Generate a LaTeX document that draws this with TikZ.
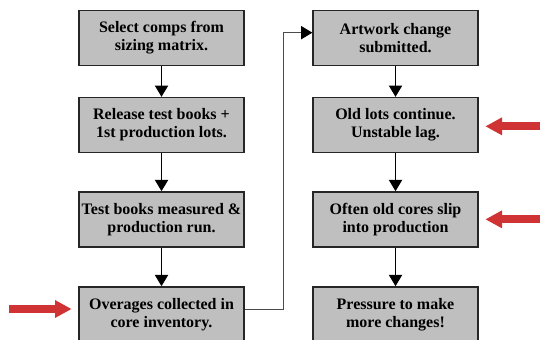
\documentclass[tikz,border=0pt]{standalone}
\usepackage{fontspec}
\setmainfont{Liberation Serif}
\usepackage{tikz}
\usetikzlibrary{calc}
\usetikzlibrary{arrows.meta,positioning}
\definecolor{boxgray}{rgb}{0.75,0.75,0.75}
\definecolor{hintred}{rgb}{0.81,0.2,0.2}
\begin{document}
\begin{tikzpicture}[x=0.75pt,y=-0.75pt,
  stepbox/.style={draw=black!85,line width=1pt,fill=boxgray,minimum width=123.75pt,
    minimum height=41.25pt,inner xsep=0pt,align=center,
    font=\fontsize{12}{13.5}\selectfont\bfseries},
  flow/.style={-{Triangle[length=8.5pt,width=10pt,black]},line width=0.8pt},
  hint/.style={-{Triangle[length=12.5pt,width=12.5pt]},line width=6pt,hintred}]
  \useasboundingbox (0,0) rectangle (541,339);
  \node[stepbox] (L1) at (161.5,38) {Select comps from\\sizing matrix.};
  \node[stepbox,below=23pt of L1] (L2) {Release test books +\\1st production lots.};
  \node[stepbox,below=28.5pt of L2] (L3) {Test books measured \&\\production run.};
  \node[stepbox,below=29pt of L3] (L4) {Overages collected in\\core inventory.};
  \node[stepbox] (R1) at (395.5,38) {Artwork change\\submitted.};
  \node[stepbox,below=23pt of R1] (R2) {Old lots continue.\\Unstable lag.};
  \node[stepbox,below=28.5pt of R2] (R3) {Often old cores slip\\into production};
  \node[stepbox,below=29pt of R3] (R4) {Pressure to make\\more changes!};
  \draw[flow] (L1) -- (L2);
  \draw[flow] (L2) -- (L3);
  \draw[flow] (L3) -- (L4);
  \draw[flow] (R1) -- (R2);
  \draw[flow] (R2) -- (R3);
  \draw[flow] (R3) -- (R4);
  \draw[flow,draw=black!70,line width=0.7pt] ([yshift=4pt]L4.east) -- ++(29pt,0) |- ([yshift=4pt]R1.west);
  \coordinate (h1) at ([xshift=-5pt,yshift=4pt]L4.west);
  \coordinate (h2) at ([xshift=5pt,yshift=-1pt]R2.east);
  \coordinate (h3) at ([xshift=5pt,yshift=0pt]R3.east);
  \draw[hint] ([xshift=-47pt]h1) -- (h1);
  \draw[hint] ([xshift=41pt]h2) -- (h2);
  \draw[hint] ([xshift=41pt]h3) -- (h3);
\end{tikzpicture}
\end{document}
